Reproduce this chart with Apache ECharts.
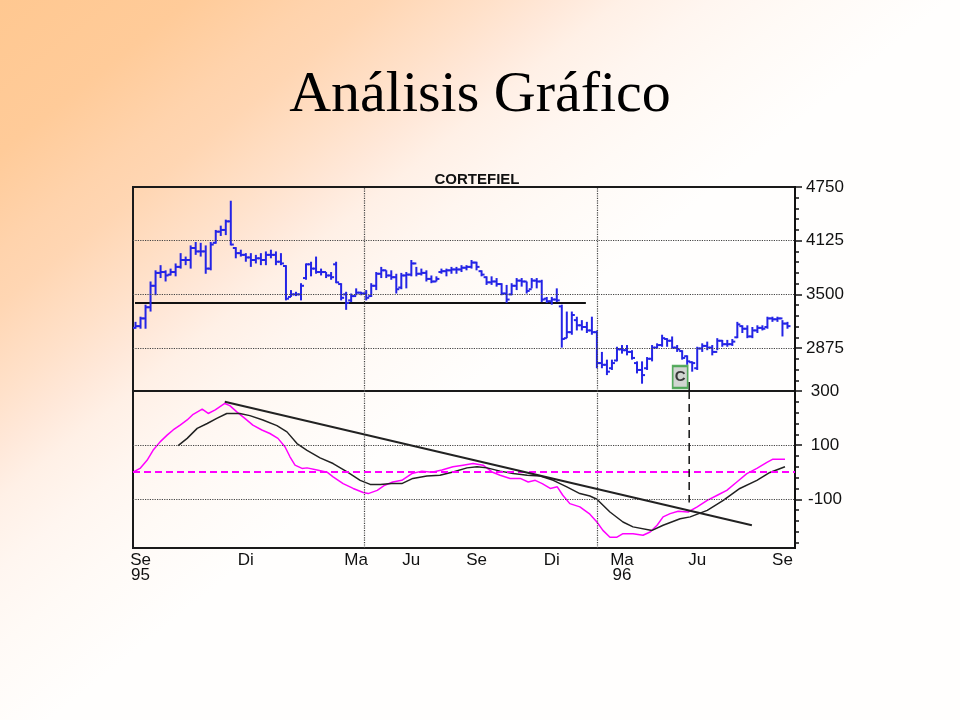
<!DOCTYPE html>
<html>
<head>
<meta charset="utf-8">
<script src="https://cdn.jsdelivr.net/npm/echarts@6/dist/echarts.min.js"></script>
<style>html,body{margin:0;padding:0;}#c{width:960px;height:720px;}</style>
</head>
<body>
<div id="c"></div>
<script>
// ---- price bars (weekly): open, high, low, close ----
const priceHigh = [3180,3240,3380,3650,3780,3840,3780,3800,3860,3980,
3940,4070,4110,4100,4070,4110,4250,4300,4370,4590,
4050,4020,3980,3980,3960,3980,4000,4020,4000,3980,
3840,3550,3530,3630,3860,3880,3940,3800,3760,3760,
3880,3630,3530,3510,3570,3530,3550,3630,3760,3820,
3780,3780,3740,3750,3760,3900,3820,3800,3780,3720,
3710,3800,3800,3820,3820,3840,3840,3900,3880,3780,
3710,3710,3690,3630,3610,3630,3690,3690,3650,3690,
3690,3670,3470,3470,3570,3380,3300,3300,3240,3200,
3180,3240,3080,2830,2740,2740,2890,2910,2910,2850,
2720,2720,2770,2910,2930,3030,2990,3010,2910,2850,
2790,2720,2890,2930,2950,2910,2990,2970,2970,2980,
3180,3140,3140,3120,3140,3140,3240,3240,3240,3200,3180];
const priceLow = [3100,3100,3100,3300,3490,3690,3650,3720,3710,3800,
3840,3800,3960,3940,3740,3780,4090,4180,4190,4070,
3920,3940,3880,3820,3860,3840,3840,3920,3840,3840,
3430,3470,3480,3430,3670,3710,3740,3720,3690,3670,
3630,3430,3320,3410,3490,3490,3430,3470,3550,3690,
3690,3670,3510,3560,3570,3710,3710,3720,3650,3630,
3650,3740,3710,3740,3740,3760,3780,3800,3780,3710,
3610,3610,3590,3490,3400,3490,3550,3590,3510,3570,
3570,3410,3400,3380,3410,2880,2990,3030,3080,3080,
3050,3030,2640,2640,2560,2620,2720,2810,2790,2740,
2580,2460,2620,2720,2870,2890,2890,2870,2830,2740,
2680,2600,2620,2830,2850,2790,2850,2890,2890,2900,
2990,3050,2990,2990,3050,3080,3100,3180,3180,3010,3100];
const priceClose = [3130,3220,3350,3600,3750,3760,3720,3760,3820,3900,
3900,4040,4000,4000,3800,4080,4230,4250,4350,4080,
3980,3960,3930,3900,3920,3900,3960,3960,3880,3860,
3450,3500,3500,3600,3850,3800,3760,3760,3720,3700,
3640,3460,3400,3480,3520,3510,3460,3600,3740,3780,
3720,3700,3560,3720,3730,3860,3740,3750,3680,3650,
3680,3770,3780,3790,3790,3810,3820,3870,3820,3730,
3640,3650,3620,3510,3440,3600,3660,3650,3540,3660,
3650,3440,3420,3440,3430,2980,3060,3260,3140,3120,
3080,3060,2700,2680,2600,2700,2860,2850,2830,2760,
2620,2560,2750,2880,2910,2990,2960,2880,2860,2760,
2720,2700,2870,2900,2880,2830,2960,2920,2920,2950,
3150,3100,3010,3080,3110,3100,3220,3210,3220,3160,3130];
const priceOpen = [3110,3130,3220,3350,3600,3750,3760,3730,3760,3820,
3900,3900,4040,4000,4000,3800,4100,4230,4250,4350,
4040,3980,3960,3930,3900,3920,3900,3960,3960,3880,
3830,3470,3500,3500,3690,3850,3800,3760,3760,3720,
3850,3620,3500,3430,3480,3520,3510,3480,3600,3740,
3780,3720,3700,3580,3720,3730,3860,3740,3750,3680,
3650,3760,3770,3780,3790,3790,3810,3820,3870,3770,
3700,3640,3650,3620,3510,3500,3600,3660,3650,3560,
3660,3650,3450,3420,3440,3360,2990,3060,3200,3140,
3120,3080,3060,2700,2680,2640,2730,2860,2850,2830,
2700,2620,2640,2750,2880,2910,2980,2960,2880,2840,
2780,2710,2640,2870,2900,2880,2830,2960,2920,2920,
3000,3130,3100,3010,3080,3110,3120,3220,3210,3220,3160];

// ---- oscillator (magenta) [week, value] ----
const oscillator = [[-0.5,0],[0.9,14],[2.3,44],[3.5,81],[4.9,112],[6.3,137],[7.5,156],[8.9,174],[10.3,193],[11.5,214],
[13.3,233],[14.5,217],[15.9,230],[17.8,254],[18.8,246],[20.2,223],[21.8,199],[23.4,174],[25.2,156],[26.8,143],
[28.4,125],[29.8,94],[30.8,57],[31.8,26],[33.2,14],[34.2,16],[36.2,8],[38.2,0],[39.4,-17],[41.4,-42],
[43.4,-60],[45.4,-75],[46.4,-79],[48.2,-67],[49.7,-48],[51.3,-36],[53.1,-30],[55.1,-5],[57.1,4],[59.1,0],
[61.1,8],[63.3,20],[65.3,26],[67.3,32],[69.3,26],[71.1,1],[72.7,-11],[74.7,-23],[76.7,-23],[78.3,-36],
[79.7,-30],[81.1,-42],[82.7,-60],[84.1,-54],[85.2,-85],[86.6,-116],[88.6,-128],[90.6,-155],[92.0,-184],[93.2,-215],
[94.6,-240],[96.0,-240],[97.2,-227],[99.2,-227],[101.2,-233],[102.6,-221],[104.0,-196],[105.2,-165],[106.6,-153],[108.2,-144],
[110.2,-147],[112.0,-128],[114.0,-104],[116.0,-85],[117.9,-67],[119.9,-36],[121.9,-5],[123.9,14],[125.9,36],[127.1,48],[129.5,48]];
// ---- signal (black) [week, value] ----
const signal = [[8.5,98],[10.3,125],[12.3,162],[14.3,180],[16.2,199],[18.2,217],[20.8,217],[22.8,209],[25.4,193],[28.2,172],
[30.2,149],[32.2,106],[34.2,81],[36.8,53],[39.4,32],[42.2,1],[44.8,-30],[46.8,-45],[48.8,-45],[51.1,-42],
[53.1,-42],[55.3,-23],[58.1,-14],[60.7,-11],[63.3,1],[66.1,16],[68.1,20],[70.1,16],[72.7,4],[75.3,-5],
[78.1,-11],[80.7,-14],[83.3,-30],[86.0,-54],[88.6,-79],[90.6,-88],[92.0,-100],[94.6,-147],[97.2,-184],[99.2,-202],
[103.0,-215],[105.2,-196],[108.6,-172],[110.6,-165],[114.0,-141],[117.2,-104],[120.5,-60],[123.9,-30],[126.5,-1],[129.5,20]];
// ---- drawn lines ----
const supportLine = [[-0.1,3400],[89.8,3400]];
const trendLine = [[17.8,260],[122.9,-196]];
const signalMarker = [[108.6,2537]];
const signalWeek = 110.4;
const gridWeeks = [45.6, 92.0];

// ---- axis ticks / labels ----
const monthLabels = ['Se\n95','Di','Ma','Ju','Se','Di','Ma\n96','Ju','Se'];
const monthLabelWeeks = [1,22,44,55,68,83,97,112,129];
const priceLabels = [2875,3500,4125,4750];
const priceMinorTicks = [2500,2625,2750,3000,3125,3250,3375,3625,3750,3875,4000,4250,4375,4500,4625];
const oscLabels = [-100,100,300];
const oscMinorTicks = [260,220,180,140,60,20,-20,-60,-140,-180,-220,-260];

const AXFONT = "'Liberation Sans Narrow','Liberation Sans',Arial,sans-serif";
const BLUE = '#2424e6';

const chart = echarts.init(document.getElementById('c'), null, {renderer:'canvas'});

const bars = priceHigh.map((h,i)=>[i, priceOpen[i], h, priceLow[i], priceClose[i]]);

function renderBar(params, api){
  const i = api.value(0);
  const pO = api.coord([i, api.value(1)]);
  const pH = api.coord([i, api.value(2)]);
  const pL = api.coord([i, api.value(3)]);
  const pC = api.coord([i, api.value(4)]);
  const st = {stroke: BLUE, lineWidth: 2};
  return {type:'group', children:[
    {type:'line', shape:{x1:pH[0], y1:pH[1], x2:pL[0], y2:pL[1]}, style:st},
    {type:'line', shape:{x1:pO[0]-3, y1:pO[1], x2:pO[0], y2:pO[1]}, style:st},
    {type:'line', shape:{x1:pC[0], y1:pC[1], x2:pC[0]+3, y2:pC[1]}, style:st}
  ]};
}

const dotted = {type:'dotted', color:'#444', width:1.2};
const plain = v => String(v);

const option = {
  animation:false,
  backgroundColor:{type:'linear', x:0, y:0, x2:0.386, y2:0.644, colorStops:[
    {offset:0, color:'#ffc891'},{offset:0.2, color:'#ffcb99'},{offset:0.33, color:'#ffd3ac'},
    {offset:0.4, color:'#ffd6b3'},{offset:0.52, color:'#ffe1ca'},{offset:0.59, color:'#ffe8d9'},
    {offset:0.655, color:'#fff0e6'},{offset:0.75, color:'#fff6f0'},{offset:0.85, color:'#fffaf6'},{offset:1, color:'#fffefd'}]},
  title:[
    {text:'Análisis Gráfico', left:475, top:62, textAlign:'center',
     textStyle:{fontFamily:"'Liberation Serif','Times New Roman',serif", fontSize:58, fontWeight:'normal', color:'#000'}},
    {text:'CORTEFIEL', left:472, top:167, textAlign:'center',
     textStyle:{fontFamily:"'Liberation Sans',Arial,sans-serif", fontSize:15, fontWeight:'bold', color:'#111'}}
  ],
  grid:[
    {left:133, right:165, top:187, height:204, show:true, borderColor:'#1a1a1a', borderWidth:2, backgroundColor:'transparent'},
    {left:133, right:165, top:391, height:157, show:true, borderColor:'#1a1a1a', borderWidth:2, backgroundColor:'transparent'}
  ],
  xAxis:[
    {type:'value', gridIndex:0, min:-0.5, max:131.5, show:false, axisLine:{onZero:false}},
    {type:'value', gridIndex:1, min:-0.5, max:131.5,
     axisLine:{show:false, onZero:false}, axisTick:{show:false}, splitLine:{show:false},
     axisLabel:{customValues:monthLabelWeeks, margin:5, fontFamily:AXFONT, fontSize:17, lineHeight:15, color:'#111',
       formatter:v=>{const k=monthLabelWeeks.indexOf(v); return k>=0?monthLabels[k]:'';}}}
  ],
  yAxis:[
    {type:'value', gridIndex:0, position:'right', min:2375, max:4750,
     axisLine:{show:true, onZero:false, lineStyle:{color:'#111', width:2}},
     axisTick:{show:true, customValues:priceLabels, length:7, lineStyle:{color:'#111', width:1.5}},
     splitLine:{show:false},
     axisLabel:{customValues:priceLabels, formatter:plain, align:'center', margin:30, fontFamily:AXFONT, fontSize:17, color:'#111'}},
    {type:'value', gridIndex:0, position:'right', min:2375, max:4750,
     axisLine:{show:false, onZero:false},
     axisTick:{show:true, customValues:priceMinorTicks, length:4, lineStyle:{color:'#111', width:1.5}},
     splitLine:{show:false}, axisLabel:{show:false}},
    {type:'value', gridIndex:1, position:'right', min:-280, max:300,
     axisLine:{show:true, onZero:false, lineStyle:{color:'#111', width:2}},
     axisTick:{show:true, customValues:oscLabels, length:7, lineStyle:{color:'#111', width:1.5}},
     splitLine:{show:false},
     axisLabel:{customValues:oscLabels, formatter:plain, align:'center', margin:30, fontFamily:AXFONT, fontSize:17, color:'#111'}},
    {type:'value', gridIndex:1, position:'right', min:-280, max:300,
     axisLine:{show:false, onZero:false},
     axisTick:{show:true, customValues:oscMinorTicks, length:4, lineStyle:{color:'#111', width:1.5}},
     splitLine:{show:false}, axisLabel:{show:false}}
  ],
  series:[
    {type:'line', xAxisIndex:0, yAxisIndex:0, data:supportLine, symbol:'none', silent:true,
     lineStyle:{color:'#111', width:2}, z:3,
     markLine:{silent:true, symbol:'none', label:{show:false}, lineStyle:dotted, animation:false,
       data:[{yAxis:2875},{yAxis:3500},{yAxis:4125},{xAxis:gridWeeks[0]},{xAxis:gridWeeks[1]}]}},
    {type:'custom', xAxisIndex:0, yAxisIndex:0, renderItem:renderBar, data:bars,
     encode:{x:0, y:[1,2,3,4]}, z:4, clip:true},
    {type:'line', xAxisIndex:0, yAxisIndex:0, data:[[signalWeek,2375],[signalWeek,2480]], symbol:'none', silent:true,
     lineStyle:{color:'#111', width:1.5}, z:5},
    {type:'scatter', xAxisIndex:0, yAxisIndex:0, data:signalMarker, symbol:'rect', symbolSize:[15,22], silent:true,
     itemStyle:{color:'#c6cbc6', borderColor:'#2f9a3a', borderWidth:2}, z:6,
     label:{show:true, position:'inside', formatter:'C', fontFamily:"'Liberation Sans',Arial,sans-serif", fontWeight:'bold', fontSize:15, color:'#111'}},
    {type:'line', xAxisIndex:1, yAxisIndex:2, data:oscillator, symbol:'none', silent:true,
     lineStyle:{color:'#ff00ff', width:1.5}, z:4,
     markLine:{silent:true, symbol:'none', label:{show:false}, animation:false,
       data:[{yAxis:100, lineStyle:dotted},{yAxis:-100, lineStyle:dotted},
             {xAxis:gridWeeks[0], lineStyle:dotted},{xAxis:gridWeeks[1], lineStyle:dotted},
             {yAxis:0, lineStyle:{type:[7,4], color:'#ff00ff', width:2}}]}},
    {type:'line', xAxisIndex:1, yAxisIndex:2, data:signal, symbol:'none', silent:true,
     lineStyle:{color:'#222', width:1.5}, z:4},
    {type:'line', xAxisIndex:1, yAxisIndex:2, data:trendLine, symbol:'none', silent:true,
     lineStyle:{color:'#222', width:2}, z:5},
    {type:'line', xAxisIndex:1, yAxisIndex:2, data:[[signalWeek,300],[signalWeek,-112]], symbol:'none', silent:true,
     lineStyle:{color:'#111', width:1.5, type:[8,5]}, z:5}
  ]
};
chart.setOption(option);
</script>
</body>
</html>
